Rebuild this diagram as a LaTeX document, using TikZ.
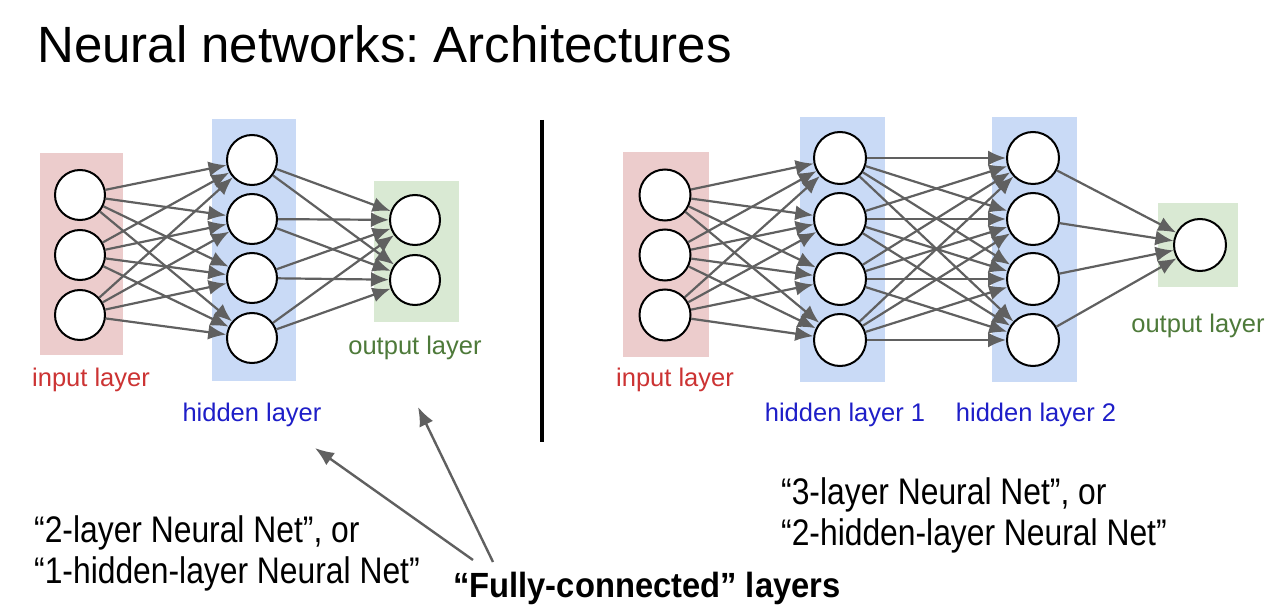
\documentclass[tikz,border=0pt]{standalone}
\usepackage{fontspec}
\setmainfont{Liberation Sans}
\newfontfamily\narrowfont{Liberation Sans}[FakeStretch=0.86]
\newfontfamily\fcfont{Liberation Sans}[FakeStretch=0.935]
\usetikzlibrary{arrows.meta}
\definecolor{inred}{RGB}{204,51,51}
\definecolor{hidblue}{RGB}{30,30,200}
\definecolor{outgreen}{RGB}{78,122,58}
\definecolor{inbg}{RGB}{236,204,204}
\definecolor{hidbg}{RGB}{201,218,246}
\definecolor{outbg}{RGB}{217,233,211}
\definecolor{edgegray}{RGB}{96,96,96}
\frenchspacing
\begin{document}
\begin{tikzpicture}[x=1pt,y=-1pt,
  neuron/.style={circle,draw=black,fill=white,line width=2pt,minimum size=50pt,inner sep=0pt},
  conn/.style={draw=edgegray,line width=2.2pt,-{Latex[length=18pt,width=15pt]}},
  pointer/.style={draw=edgegray,line width=2.4pt,-{Latex[length=19pt,width=15pt]}},
  lab/.style={font=\fontsize{25.5}{30}\selectfont,anchor=base,inner sep=0pt},
  bigtxt/.style={font=\narrowfont\fontsize{37}{41}\selectfont,anchor=base west,inner sep=0pt},
  titletxt/.style={font=\fontsize{51}{60}\selectfont,anchor=base west,inner sep=0pt}]
\useasboundingbox (0,0) rectangle (1280,612);
\fill[white] (0,0) rectangle (1280,612);

% title
\node[titletxt] (title) at (37,63) {Neural networks: Architectures};

% ---------- left network ----------
\fill[inbg] (40,153) rectangle (123,355);
\fill[hidbg] (212,119) rectangle (296,381);
\fill[outbg] (374,181) rectangle (459,322);

\foreach \i/\y in {1/195,2/255,3/315} \node[neuron] (li\i) at (80,\y) {};
\foreach \i/\y in {1/160,2/219,3/278,4/338} \node[neuron] (lh\i) at (252,\y) {};
\foreach \i/\y in {1/220,2/280} \node[neuron] (lo\i) at (415,\y) {};

\foreach \i in {1,2,3} \foreach \j in {1,2,3,4} \draw[conn] (li\i) -- (lh\j);
\foreach \i in {1,2,3,4} \foreach \j in {1,2} \draw[conn] (lh\i) -- (lo\j);

\node[lab,text=inred] (lin) at (91,386) {input layer};
\node[lab,text=hidblue] (lhid) at (252,421) {hidden layer};
\node[lab,text=outgreen] (lout) at (415,355) {output layer};

% divider
\coordinate (dtop) at (542,120);
\coordinate (dbot) at (542,442);
\draw[line width=4pt,black] (dtop) -- (dbot);

% ---------- right network ----------
\fill[inbg] (623,152) rectangle (709,357);
\fill[hidbg] (800,117) rectangle (885,382);
\fill[hidbg] (992,117) rectangle (1077,382);
\fill[outbg] (1158,203) rectangle (1238,287);

\foreach \i/\y in {1/195,2/255,3/315} \node[neuron,minimum size=51pt] (ri\i) at (665,\y) {};
\foreach \i/\y in {1/158,2/219,3/279,4/340} \node[neuron,minimum size=52pt] (ra\i) at (840,\y) {};
\foreach \i/\y in {1/158,2/219,3/279,4/340} \node[neuron,minimum size=52pt] (rb\i) at (1033,\y) {};
\node[neuron,minimum size=52pt] (ro) at (1200,245) {};

\foreach \i in {1,2,3} \foreach \j in {1,2,3,4} \draw[conn] (ri\i) -- (ra\j);
\foreach \i in {1,2,3,4} \foreach \j in {1,2,3,4} \draw[conn] (ra\i) -- (rb\j);
\foreach \i in {1,2,3,4} \draw[conn] (rb\i) -- (ro);

\node[lab,text=inred] (rin) at (675,386) {input layer};
\node[lab,text=hidblue] (rhid1) at (845,421) {hidden layer 1};
\node[lab,text=hidblue] (rhid2) at (1036,421) {hidden layer 2};
\node[lab,text=outgreen] (rout) at (1198,333) {output layer};

% ---------- bottom texts ----------
\node[bigtxt] (l1) at (34,542) {“2-layer Neural Net”, or};
\node[bigtxt] (l2) at (34,583) {“1-hidden-layer Neural Net”};
\node[bigtxt] (r1) at (781,504) {“3-layer Neural Net”, or};
\node[bigtxt] (r2) at (781,545) {“2-hidden-layer Neural Net”};
\node[font=\fcfont\bfseries\fontsize{35}{40}\selectfont,anchor=base west,inner sep=0pt] (fc) at (453,597) {“Fully-connected” layers};

% pointers
\coordinate (f1) at (473,560);
\coordinate (f2) at (493,562);
\coordinate (a1) at (315,448);
\coordinate (a2) at (418,407);
\draw[pointer] (f1) -- (a1);
\draw[pointer] (f2) -- (a2);
\end{tikzpicture}
\end{document}
